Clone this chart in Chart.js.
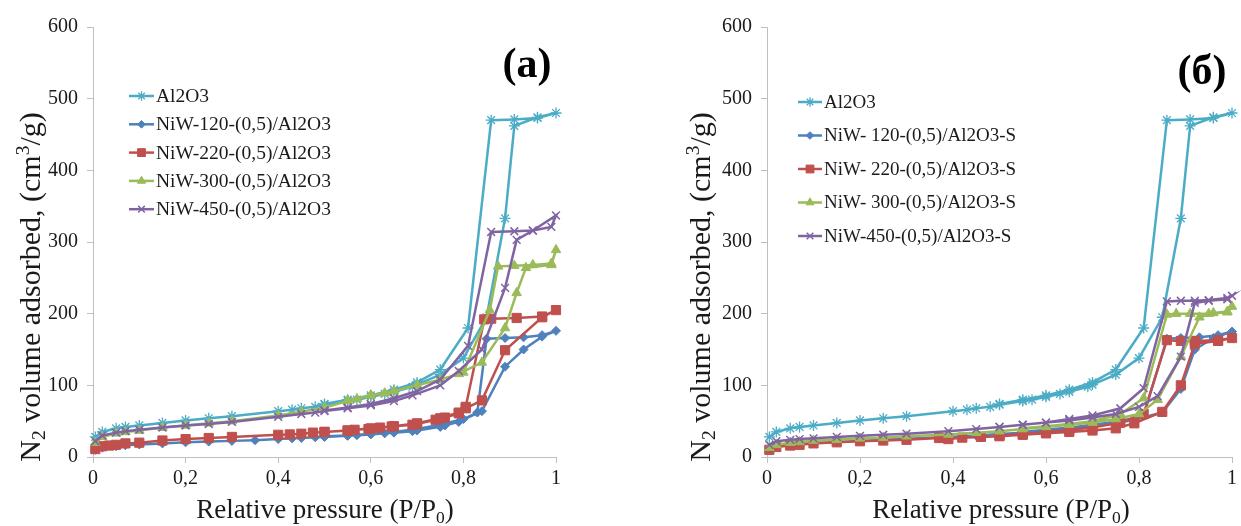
<!DOCTYPE html>
<html>
<head>
<meta charset="utf-8">
<script src="https://cdn.jsdelivr.net/npm/chart.js@4.4.1/dist/chart.umd.min.js"></script>
<style>
  body { margin: 0; background: #fff; }
  .panel { position: absolute; top: 0; }
</style>
</head>
<body>
<div class="panel" style="left:0"><canvas id="chartA" width="620" height="526"></canvas></div>
<div class="panel" style="left:620px"><canvas id="chartB" width="621" height="526"></canvas></div>
<script>
// x tick labels (comma decimals, as in the original)
const xTicks = ['0', '0,2', '0,4', '0,6', '0,8', '1'];

const labelsA = ['Al2O3', 'NiW-120-(0,5)/Al2O3', 'NiW-220-(0,5)/Al2O3', 'NiW-300-(0,5)/Al2O3', 'NiW-450-(0,5)/Al2O3'];
const labelsB = ['Al2O3', 'NiW- 120-(0,5)/Al2O3-S', 'NiW- 220-(0,5)/Al2O3-S', 'NiW- 300-(0,5)/Al2O3-S', 'NiW-450-(0,5)/Al2O3-S'];

// each isotherm: adsorption branch, then desorption branch
// Al2O3 (same support in both panels)
const al2o3P = [0.005, 0.02, 0.05, 0.07, 0.1, 0.15, 0.2, 0.25, 0.3, 0.4, 0.43, 0.45, 0.48, 0.5, 0.55, 0.57, 0.6, 0.63, 0.65, 0.69, 0.7, 0.75, 0.8, 0.85, 0.89, 0.91, 0.96, 1.0,
                0.96, 0.91, 0.86, 0.81, 0.75, 0.7, 0.65, 0.6, 0.55, 0.5];
const al2o3V = [28, 35, 40, 42, 44, 47.5, 51, 54, 57, 64, 66, 68, 70, 73, 78, 80, 84, 88, 91, 98, 101, 115, 138, 195, 333, 462, 474, 480,
                473, 471, 470, 180, 122, 104, 94, 86, 80, 74];

// panel (a)
const a120P = [0.005, 0.02, 0.05, 0.07, 0.1, 0.15, 0.2, 0.25, 0.3, 0.35, 0.4, 0.43, 0.45, 0.48, 0.5, 0.55, 0.57, 0.6, 0.63, 0.65, 0.69, 0.7, 0.75, 0.76, 0.79, 0.84, 0.89, 0.93, 0.97, 1.0,
               0.97, 0.93, 0.89, 0.85, 0.83, 0.8, 0.75, 0.7, 0.65, 0.6, 0.55, 0.5];
const a120V = [10, 13, 15, 16.5, 17.5, 19, 20.5, 21.5, 22.5, 23.5, 25, 26, 26.5, 27.5, 28, 29.5, 30.5, 31.5, 33, 34, 36, 37, 42, 44, 49, 64, 126, 150, 168, 176,
               170, 167, 166, 165, 62, 53, 45, 39, 35, 32, 30, 29];

const a220P = [0.005, 0.02, 0.035, 0.05, 0.07, 0.1, 0.15, 0.2, 0.25, 0.3, 0.4, 0.425, 0.45, 0.475, 0.5, 0.55, 0.565, 0.595, 0.62, 0.645, 0.69, 0.7, 0.74, 0.76, 0.79, 0.805, 0.84, 0.89, 0.97, 1.0,
               0.97, 0.915, 0.86, 0.845, 0.805, 0.79, 0.75, 0.7, 0.65, 0.6, 0.55, 0.5];
const a220V = [11, 15, 16, 17, 19, 20, 23, 25, 26.5, 28, 31, 31.5, 32.5, 34, 35, 37, 38, 39, 41, 42.5, 45, 46, 52, 55, 61, 68, 79, 149, 195, 205,
               196, 194, 193, 192, 70, 62, 54, 47, 43, 40, 37, 35];

const a300P = [0.005, 0.02, 0.05, 0.07, 0.1, 0.15, 0.2, 0.25, 0.3, 0.4, 0.45, 0.5, 0.55, 0.57, 0.6, 0.63, 0.65, 0.7, 0.75, 0.79, 0.84, 0.89, 0.915, 0.935, 0.99, 1.0,
               0.99, 0.95, 0.91, 0.875, 0.857, 0.8, 0.75, 0.7, 0.65, 0.6, 0.55];
const a300V = [20, 28, 33, 35, 37, 41, 44, 47, 50, 58, 63, 69, 78, 81, 86, 89, 92, 100, 108, 116, 132, 180, 229, 264, 268, 289,
               270, 268, 267, 266, 205, 118, 108, 100, 92, 86, 79];

const a450P = [0.005, 0.02, 0.05, 0.07, 0.1, 0.15, 0.2, 0.25, 0.3, 0.4, 0.45, 0.48, 0.5, 0.55, 0.6, 0.65, 0.69, 0.75, 0.79, 0.84, 0.89, 0.915, 0.95, 1.0,
               0.99, 0.95, 0.91, 0.86, 0.81, 0.75, 0.7, 0.65, 0.6, 0.55, 0.5];
const a450V = [22, 30, 34, 36, 38, 41, 44, 46, 49, 56, 60, 62, 64, 68, 72, 78, 86, 100, 120, 150, 236, 303, 316, 337,
               321, 316, 315, 314, 155, 108, 92, 82, 74, 69, 65];

// panel (б)
const b120P = [0.005, 0.02, 0.05, 0.07, 0.1, 0.15, 0.2, 0.25, 0.3, 0.39, 0.45, 0.5, 0.55, 0.6, 0.65, 0.7, 0.75, 0.79, 0.85, 0.89, 0.92, 0.96, 1.0,
               0.97, 0.93, 0.89, 0.86, 0.81, 0.76, 0.7, 0.65, 0.6, 0.55];
const b120V = [11, 15, 17, 18, 19.5, 21, 22.5, 24, 25.5, 28, 30, 32, 34, 37, 40, 43, 47, 52, 62, 95, 150, 166, 175,
               170, 167, 166, 165, 58, 50, 45, 41, 38, 35];

const b220P = [0.005, 0.02, 0.05, 0.07, 0.1, 0.15, 0.2, 0.25, 0.3, 0.37, 0.39, 0.42, 0.46, 0.5, 0.55, 0.6, 0.65, 0.7, 0.75, 0.79, 0.85, 0.89, 0.92, 0.97, 1.0,
               0.97, 0.92, 0.89, 0.86, 0.81, 0.76, 0.7, 0.65, 0.6, 0.55, 0.5];
const b220V = [10, 14, 16, 17, 19, 20.5, 22, 23, 24, 26.5, 25, 27, 28, 29, 31, 33, 35, 37, 40, 47, 63, 100, 158, 162, 166,
               163, 162, 162, 163, 60, 48, 41, 38, 35, 32, 30];

const b300P = [0.005, 0.02, 0.05, 0.07, 0.1, 0.15, 0.2, 0.25, 0.3, 0.39, 0.45, 0.5, 0.55, 0.6, 0.65, 0.7, 0.75, 0.8, 0.84, 0.89, 0.93, 0.96, 0.99, 1.0,
               0.99, 0.95, 0.91, 0.88, 0.86, 0.81, 0.76, 0.7, 0.65, 0.6, 0.55];
const b300V = [13, 17, 20, 21, 23, 24, 26, 27, 29, 31.5, 34, 36, 39, 42, 45, 48, 53, 60, 80, 140, 195, 201, 203, 210,
               202, 200, 200, 200, 199, 82, 60, 50, 46, 43, 40];

const b450P = [0.005, 0.02, 0.05, 0.07, 0.1, 0.15, 0.2, 0.25, 0.3, 0.39, 0.45, 0.5, 0.55, 0.6, 0.65, 0.7, 0.75, 0.8, 0.84, 0.89, 0.92, 0.95, 0.99, 1.0,
               0.99, 0.95, 0.92, 0.89, 0.86, 0.81, 0.76, 0.7, 0.65, 0.6, 0.55, 0.5];
const b450V = [17, 22, 24, 25, 26, 28, 29.5, 31, 32.5, 36, 39, 42, 45, 48, 51, 55, 60, 70, 85, 140, 215, 218, 220, 225,
               222, 219, 218, 218, 217, 96, 68, 58, 53, 48, 45, 42];

const colors = ['#4BACC6', '#4F81BD', '#C0504D', '#9BBB59', '#8064A2'];
const markers = ['star', 'rectRot', 'rect', 'triangle', 'crossRot'];
const markerSize = [5.5, 4.5, 6.5, 5.5, 5.5];
const markerBorder = [1.3, 1, 1, 1, 1.5];

const SERIF = "'Liberation Serif', 'Times New Roman', serif";

const pts = (p, v) => p.map((x, i) => ({ x: x, y: v[i] }));

function makeSets(labels, series) {
    return series.map((s, i) => ({
        label: labels[i],
        data: pts(s[0], s[1]),
        showLine: true,
        borderColor: colors[i],
        backgroundColor: colors[i],
        borderWidth: 2.5,
        pointStyle: markers[i],
        pointRadius: markerSize[i],
        pointBorderWidth: markerBorder[i],
        pointHoverRadius: markerSize[i],
        tension: 0,
        clip: false,
        order: 5 - i,
    }));
}

// text with sub/superscripts: [text, 0 normal | 1 sub | -1 sup]
function drawRich(ctx, segs, size) {
    const font = (s) => s + 'px ' + SERIF;
    let w = 0;
    segs.forEach(([t, k]) => {
        ctx.font = font(k ? size * 0.65 : size);
        w += ctx.measureText(t).width;
    });
    let x = -w / 2;
    ctx.textAlign = 'left';
    ctx.textBaseline = 'alphabetic';
    segs.forEach(([t, k]) => {
        ctx.font = font(k ? size * 0.65 : size);
        const dy = k === 1 ? size * 0.18 : (k === -1 ? -size * 0.38 : 0);
        ctx.fillText(t, x, size * 0.33 + dy);
        x += ctx.measureText(t).width;
    });
}

const yTitle = [['N', 0], ['2', 1], [' volume adsorbed, (cm', 0], ['3', -1], ['/g)', 0]];
const xTitle = [['Relative pressure (P/P', 0], ['0', 1], [')', 0]];

const decorPlugin = {
    id: 'decor',
    afterDraw(chart, args, o) {
        const ctx = chart.ctx;
        // axis titles
        ctx.save();
        ctx.fillStyle = '#1a1a1a';
        ctx.translate(o.yTitleX, o.yTitleY);
        ctx.rotate(-Math.PI / 2);
        drawRich(ctx, yTitle, 30);
        ctx.restore();

        ctx.save();
        ctx.fillStyle = '#1a1a1a';
        ctx.translate(o.xTitleX, o.xTitleY);
        drawRich(ctx, xTitle, 27);
        ctx.restore();

        // panel tag
        ctx.save();
        ctx.fillStyle = '#000';
        ctx.font = 'bold 42px ' + SERIF;
        ctx.textAlign = 'center';
        ctx.textBaseline = 'middle';
        ctx.fillText(o.tag, o.tagX, o.tagY);
        ctx.restore();

        // legend
        chart.data.datasets.forEach((ds, i) => {
            const y = o.legY + i * o.legGap;
            ctx.save();
            ctx.strokeStyle = ds.borderColor;
            ctx.fillStyle = ds.backgroundColor;
            ctx.lineWidth = 2.5;
            ctx.beginPath();
            ctx.moveTo(o.legX, y);
            ctx.lineTo(o.legX + o.legLen, y);
            ctx.stroke();
            ctx.lineWidth = ds.pointBorderWidth;
            Chart.helpers.drawPoint(ctx, {
                pointStyle: ds.pointStyle,
                radius: ds.pointRadius * 0.85,
                rotation: 0,
                borderWidth: ds.pointBorderWidth,
            }, o.legX + o.legLen / 2, y);
            ctx.fillStyle = '#1a1a1a';
            ctx.font = o.legFont + 'px ' + SERIF;
            ctx.textAlign = 'left';
            ctx.textBaseline = 'middle';
            ctx.fillText(ds.label, o.legX + o.legLen + 2, y + 1);
            ctx.restore();
        });
    }
};

function makeOptions(yWidth, padRight, decor) {
    return {
        responsive: false,
        animation: false,
        layout: { padding: { top: 27, right: padRight, left: 0, bottom: 0 } },
        scales: {
            x: {
                type: 'linear',
                min: 0,
                max: 1,
                ticks: {
                    stepSize: 0.2,
                    color: '#1a1a1a',
                    padding: 4,
                    font: { family: SERIF, size: 20 },
                    callback: (v, i) => xTicks[i],
                },
                grid: { drawOnChartArea: false, color: '#BFBFBF', tickLength: 6 },
                border: { color: '#BFBFBF' },
                afterFit: (s) => { s.height = 69; },
            },
            y: {
                min: 0,
                max: 600,
                ticks: {
                    stepSize: 100,
                    color: '#1a1a1a',
                    padding: 9,
                    font: { family: SERIF, size: 20 },
                },
                grid: { drawOnChartArea: false, color: '#BFBFBF', tickLength: 6 },
                border: { color: '#BFBFBF' },
                afterFit: (s) => { s.width = yWidth; },
            }
        },
        plugins: {
            legend: { display: false },
            tooltip: { enabled: false },
            decor: decor,
        }
    };
}

// PANEL (a)
const chartA = new Chart(document.querySelector('#chartA'), {
    type: 'scatter',
    data: {
        datasets: makeSets(labelsA, [[al2o3P, al2o3V], [a120P, a120V], [a220P, a220V], [a300P, a300V], [a450P, a450V]])
    },
    options: makeOptions(93, 64, {
        yTitleX: 30, yTitleY: 287, xTitleX: 325, xTitleY: 509,
        tag: '(a)', tagX: 527, tagY: 66,
        legX: 129, legY: 96, legGap: 28.3, legLen: 25, legFont: 19.5,
    }),
    plugins: [decorPlugin],
});

// PANEL (б)
const chartB = new Chart(document.querySelector('#chartB'), {
    type: 'scatter',
    data: {
        datasets: makeSets(labelsB, [[al2o3P, al2o3V], [b120P, b120V], [b220P, b220V], [b300P, b300V], [b450P, b450V]])
    },
    options: makeOptions(147, 6, {
        yTitleX: 80, yTitleY: 287, xTitleX: 381, xTitleY: 509,
        tag: '(б)', tagX: 582, tagY: 73,
        legX: 178, legY: 102, legGap: 33.5, legLen: 24, legFont: 19,
    }),
    plugins: [decorPlugin],
});
</script>
</body>
</html>
